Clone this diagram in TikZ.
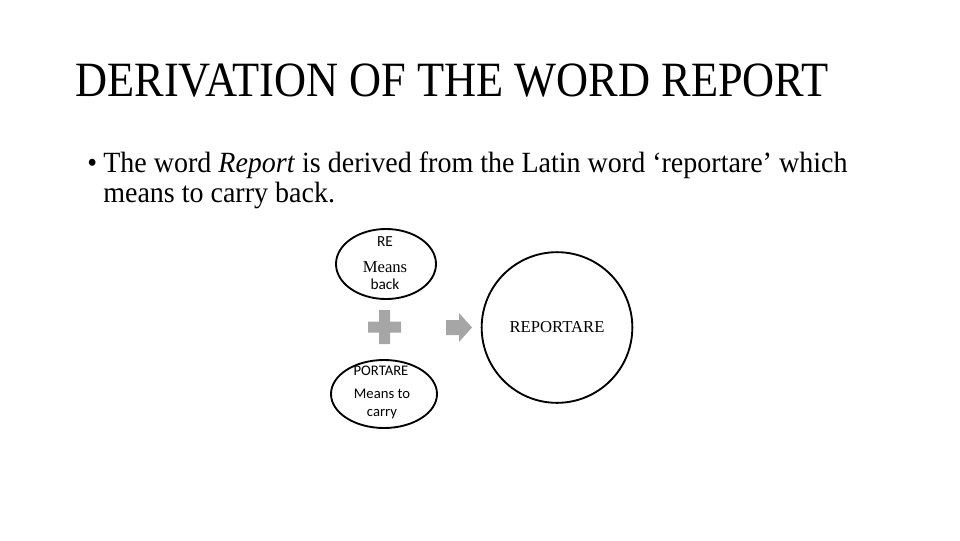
\documentclass[tikz,border=0pt]{standalone}
\usepackage{fontspec}
\setmainfont{Liberation Serif}
\newfontfamily\titlefont[FakeStretch=0.9]{Liberation Serif}
\newfontfamily\bodyfont[FakeStretch=0.955]{Liberation Serif}
\newfontfamily\carlitofont{Carlito}
\usetikzlibrary{shapes.geometric}
\definecolor{plusgray}{HTML}{A6A6A6}
\begin{document}
\begin{tikzpicture}[x=0.75pt,y=-0.75pt,
  oval/.style={draw,ellipse,line width=1.4pt,inner sep=0pt},
  grayshape/.style={fill=plusgray,draw=none},
  txt/.style={inner sep=0pt,anchor=base}]
\useasboundingbox (0,0) rectangle (960,540);
% title
\node[txt,anchor=base west,font=\titlefont\fontsize{37}{40}\selectfont] (title) at (75,96) {DERIVATION OF THE WORD REPORT};
% bullet text
\node[txt,anchor=base west,font=\bodyfont\fontsize{22}{24}\selectfont] (bul) at (87,172) {\textbullet};
\node[txt,anchor=base west,font=\bodyfont\fontsize{22}{24}\selectfont] (l1) at (103,172) {The word \textit{Report} is derived from the Latin word ‘reportare’ which};
\node[txt,anchor=base west,font=\bodyfont\fontsize{22}{24}\selectfont] (l2) at (103,202) {means to carry back.};
% RE ellipse
\node[oval,minimum width=75,minimum height=52.5] (re) at (386,264) {};
\node[txt,font=\carlitofont\fontsize{11.5}{12}\selectfont] (ret) at (385,246) {RE};
\node[txt,font=\fontsize{12.5}{14}\selectfont] (rem) at (385,272) {Means};
\node[txt,font=\carlitofont\fontsize{11.5}{12}\selectfont] (reb) at (385,289) {back};
% PORTARE ellipse
\node[oval,minimum width=79.5,minimum height=51] (po) at (384,394) {};
\node[txt,font=\carlitofont\fontsize{11}{12}\selectfont] (pot) at (381,375) {PORTARE};
\node[txt,font=\carlitofont\fontsize{11}{12}\selectfont] (pom) at (382,398) {Means to};
\node[txt,font=\carlitofont\fontsize{11}{12}\selectfont] (poc) at (382,416) {carry};
% plus
\coordinate (pc) at (384.5,327);
\fill[grayshape] ([shift={(-5.5,-17)}]pc) -- ++(11,0) -- ++(0,11.5) -- ++(11,0) -- ++(0,11) -- ++(-11,0) -- ++(0,11.5) -- ++(-11,0) -- ++(0,-11.5) -- ++(-11,0) -- ++(0,-11) -- ++(11,0) -- cycle;
% arrow
\coordinate (ac) at (446,327.5);
\fill[grayshape] ([shift={(0,-7.5)}]ac) -- ++(13,0) -- ++(0,-7) -- ++(13,14.5) -- ++(-13,14.5) -- ++(0,-7) -- ++(-13,0) -- cycle;
% big circle
\node[draw,circle,line width=1.4pt,minimum size=113,inner sep=0pt] (rep) at (557,327.5) {};
\node[txt,font=\fontsize{12.5}{14}\selectfont] (rept) at (557,332) {REPORTARE};
\end{tikzpicture}
\end{document}
